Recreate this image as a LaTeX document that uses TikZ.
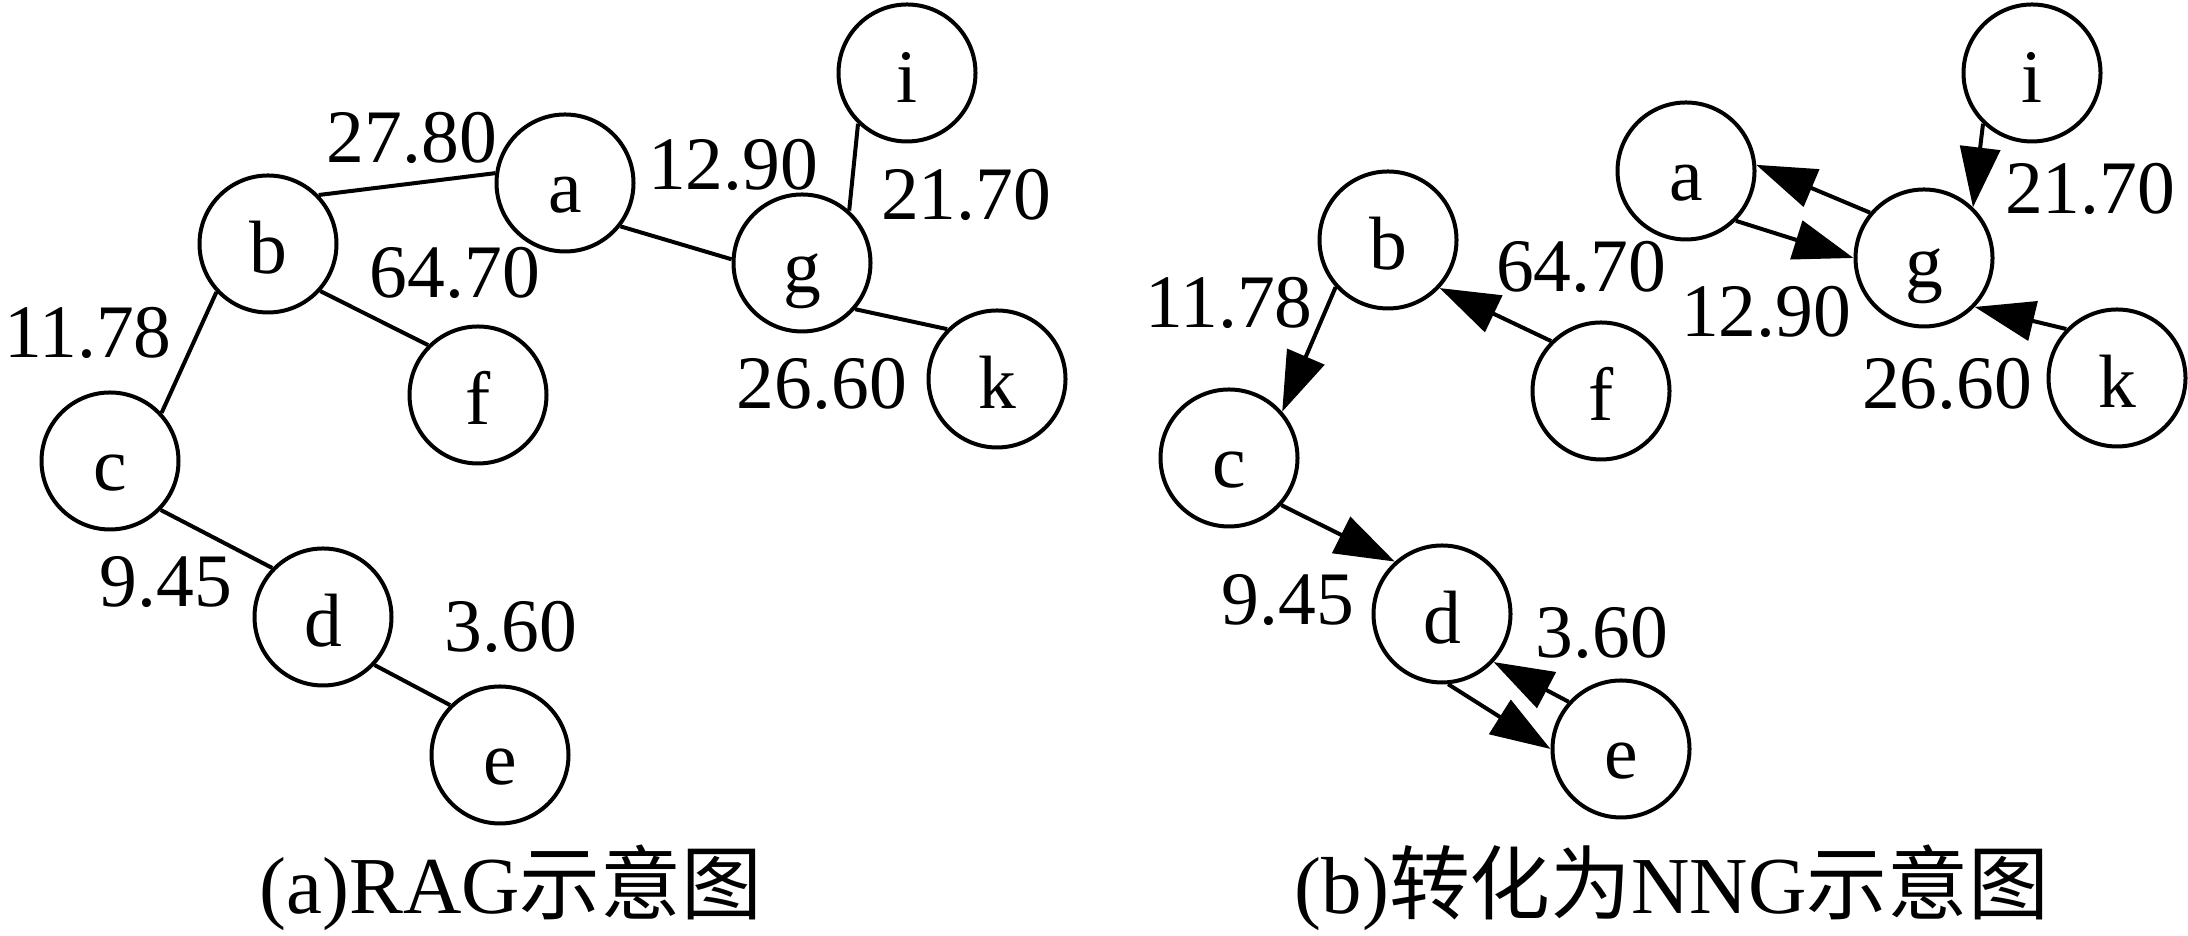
\documentclass[tikz,border=0pt]{standalone}
\usepackage{fontspec}
\setmainfont{Liberation Serif}
\newfontfamily\cjk{Noto Sans CJK SC}
\usetikzlibrary{arrows.meta}
\tikzset{
    rnode/.style = {circle, line width=0.4mm, draw=black, minimum size=13.7mm, inner sep=0pt, text height=6mm, text depth=0mm, font=\fontsize{21.5pt}{24pt}\selectfont},
    wlabel/.style = {inner sep=0pt, font=\fontsize{21.5pt}{24pt}\selectfont},
    caption/.style = {inner sep=0pt, font=\fontsize{23pt}{26pt}\selectfont},
    edgen/.style = {-, line width=0.4mm, black}, % RAG
    edgea/.style = {-{Triangle[length=6mm,width=4mm]}, line width=0.4mm, black}, % NNG
}
\begin{document}
\begin{tikzpicture}
\useasboundingbox (0,0) rectangle (21.88,9.36);
% (a)
\node[rnode] at (5.65, 7.53) (la) {a};
\node[rnode] at (2.68, 6.92) (lb) {b};
\node[rnode] at (1.10, 4.75) (lc) {c};
\node[rnode] at (3.23, 3.19) (ld) {d};
\node[rnode] at (5.00, 1.81) (le) {e};
\node[rnode] at (4.78, 5.41) (lf) {f};
\node[rnode] at (8.02, 6.73) (lg) {g};
\node[rnode] at (9.07, 8.63) (li) {i};
\node[rnode] at (9.97, 5.57) (lk) {k};
\draw[edgen] (lb.44) -- (la.172);
\draw[edgen] (la.-38) -- (lg.177);
\draw[edgen] (li.-134) -- (lg.48);
\draw[edgen] (lg.-41) -- (lk.135);
\draw[edgen] (lb.-42) -- (lf.135);
\draw[edgen] (lb.-137) -- (lc.43);
\draw[edgen] (lc.-44) -- (ld.136);
\draw[edgen] (ld.-43) -- (le.135);
\node[wlabel] at (4.12, 7.98) (lwab) {27.80};
\node[wlabel] at (7.33, 7.71) (lwag) {12.90};
\node[wlabel] at (9.66, 7.41) (lwig) {21.70};
\node[wlabel] at (4.55, 6.63) (lwbf) {64.70};
\node[wlabel] at (0.88, 6.03) (lwbc) {11.78};
\node[wlabel] at (8.22, 5.52) (lwgk) {26.60};
\node[wlabel] at (1.66, 3.54) (lwcd) {9.45};
\node[wlabel] at (5.11, 3.09) (lwde) {3.60};
\node[caption] at (5.11, 0.48) (lcap) {(a)RAG{\cjk 示意图}};
% (b)
\node[rnode] at (16.86, 7.65) (ra) {a};
\node[rnode] at (13.88, 6.96) (rb) {b};
\node[rnode] at (12.29, 4.78) (rc) {c};
\node[rnode] at (14.42, 3.22) (rd) {d};
\node[rnode] at (16.21, 1.87) (re) {e};
\node[rnode] at (16.01, 5.45) (rf) {f};
\node[rnode] at (19.24, 6.78) (rg) {g};
\node[rnode] at (20.32, 8.63) (ri) {i};
\node[rnode] at (21.17, 5.58) (rk) {k};
\draw[edgea] (ri.-134) -- (rg.46);
\draw[edgea] (rk.136) -- (rg.-44);
\draw[edgea] (ra.-45) -- (rg.180);
\draw[edgea] (rg.140) -- (ra.5);
\draw[edgea] (rf.135) -- (rb.-43);
\draw[edgea] (rb.-138) -- (rc.41);
\draw[edgea] (rc.-42) -- (rd.132);
\draw[edgea] (rd.-85) -- (re.180);
\draw[edgea] (re.138) -- (rd.-43);
\node[wlabel] at (20.90, 7.47) (rwig) {21.70};
\node[wlabel] at (15.81, 6.69) (rwfb) {64.70};
\node[wlabel] at (12.29, 6.33) (rwbc) {11.78};
\node[wlabel] at (17.66, 6.24) (rwag) {12.90};
\node[wlabel] at (19.47, 5.52) (rwkg) {26.60};
\node[wlabel] at (12.88, 3.36) (rwcd) {9.45};
\node[wlabel] at (16.02, 3.03) (rwde) {3.60};
\node[caption] at (16.72, 0.48) (rcap) {(b){\cjk 转化为}NNG{\cjk 示意图}};
\end{tikzpicture}
\end{document}
